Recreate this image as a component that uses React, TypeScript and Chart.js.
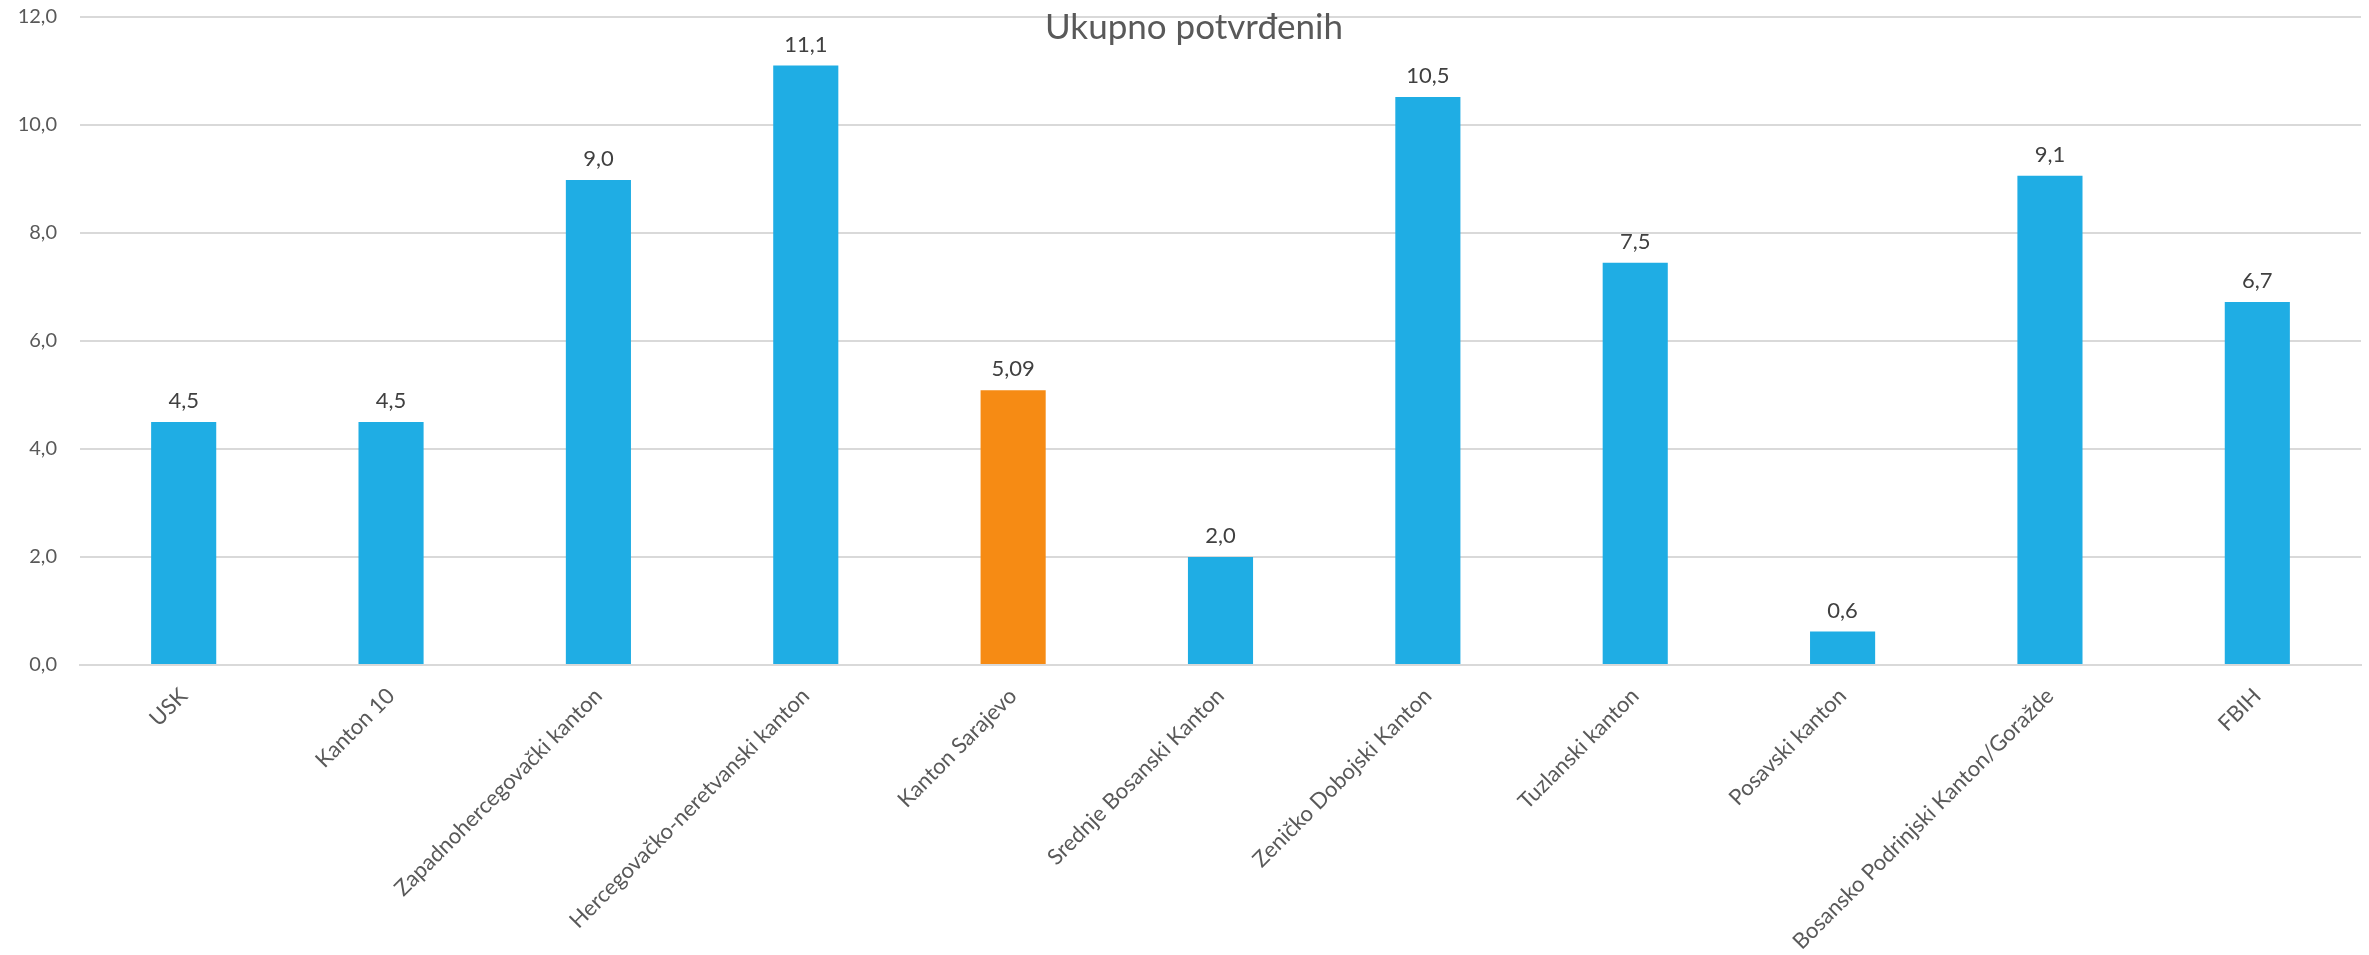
import React, { useEffect, useRef } from "react";
import { Chart, registerables } from "chart.js";

Chart.register(...registerables);

const chartTitle = "Ukupno potvrđenih";
const categories = [
  "USK",
  "Kanton 10",
  "Zapadnohercegovački kanton",
  "Hercegovačko-neretvanski kanton",
  "Kanton Sarajevo",
  "Srednje Bosanski Kanton",
  "Zeničko Dobojski Kanton",
  "Tuzlanski kanton",
  "Posavski kanton",
  "Bosansko Podrinjski Kanton/Goražde",
  "FBIH",
];
const values = [4.5, 4.5, 8.98, 11.1, 5.09, 2.0, 10.52, 7.45, 0.62, 9.06, 6.72];
const valueLabels = ["4,5", "4,5", "9,0", "11,1", "5,09", "2,0", "10,5", "7,5", "0,6", "9,1", "6,7"];
const highlightIndex = [4];
const yMin = 0;
const yMax = 12;
const yStep = 2;

const BLUE = "#1FADE4";
const ORANGE = "#F68B14";
const FONT = "Lato, 'Open Sans', sans-serif";

export default function App() {
  const ref = useRef<HTMLCanvasElement | null>(null);

  useEffect(() => {
    document.body.style.margin = "0";
    document.body.style.overflow = "hidden";
    const canvas = ref.current;
    if (!canvas) return;

    const labelPlugin = {
      id: "valueLabels",
      afterDatasetsDraw(chart: any) {
        const ctx = chart.ctx;
        const meta = chart.getDatasetMeta(0);
        ctx.save();
        ctx.font = `22px ${FONT}`;
        ctx.fillStyle = "#404040";
        ctx.textAlign = "center";
        ctx.textBaseline = "bottom";
        meta.data.forEach((bar: any, i: number) => {
          ctx.fillText(valueLabels[i], bar.x, bar.y - 10);
        });
        ctx.restore();
      },
    };

    const titlePlugin = {
      id: "overTitle",
      afterDraw(chart: any) {
        const ctx = chart.ctx;
        ctx.save();
        ctx.font = `35px ${FONT}`;
        ctx.fillStyle = "#595959";
        ctx.textAlign = "center";
        ctx.textBaseline = "alphabetic";
        ctx.fillText(chartTitle, chart.width * 0.504, 39);
        ctx.restore();
      },
    };

    const chart = new Chart(canvas, {
      type: "bar",
      data: {
        labels: categories,
        datasets: [
          {
            data: values,
            backgroundColor: values.map((_, i) => (highlightIndex.includes(i) ? ORANGE : BLUE)),
            borderWidth: 0,
            categoryPercentage: 1,
            barPercentage: 0.314,
          },
        ],
      },
      options: {
        responsive: false,
        animation: false,
        devicePixelRatio: 1,
        layout: { padding: { top: 17, right: 8, left: 0, bottom: 0 } },
        plugins: {
          legend: { display: false },
          title: { display: false },
          tooltip: { enabled: false },
        },
        scales: {
          x: {
            grid: { display: false, drawTicks: false },
            border: { display: true, color: "#D9D9D9", width: 2 },
            ticks: {
              autoSkip: false,
              maxRotation: 45,
              minRotation: 45,
              padding: 18,
              color: "#595959",
              font: { family: FONT, size: 22 },
            },
            afterFit: (s: any) => {
              s.height = 290;
              s.paddingLeft = 0;
              s.paddingRight = 0;
            },
          },
          y: {
            min: yMin,
            max: yMax,
            grid: { color: "#D9D9D9", lineWidth: 2, drawTicks: false },
            border: { display: false },
            ticks: {
              stepSize: yStep,
              padding: 23,
              color: "#595959",
              font: { family: FONT, size: 20 },
              callback: (v: any) => Number(v).toFixed(1).replace(".", ","),
            },
            afterFit: (s: any) => {
              s.width = 80;
              s.paddingTop = 0;
              s.paddingBottom = 0;
            },
          },
        },
      },
      plugins: [labelPlugin, titlePlugin],
    });

    return () => chart.destroy();
  }, []);

  return (
    <div style={{ position: "fixed", left: 0, top: 0, width: 2369, height: 955, background: "#fff" }}>
      <canvas ref={ref} width={2369} height={955} style={{ width: 2369, height: 955, display: "block" }} />
    </div>
  );
}
